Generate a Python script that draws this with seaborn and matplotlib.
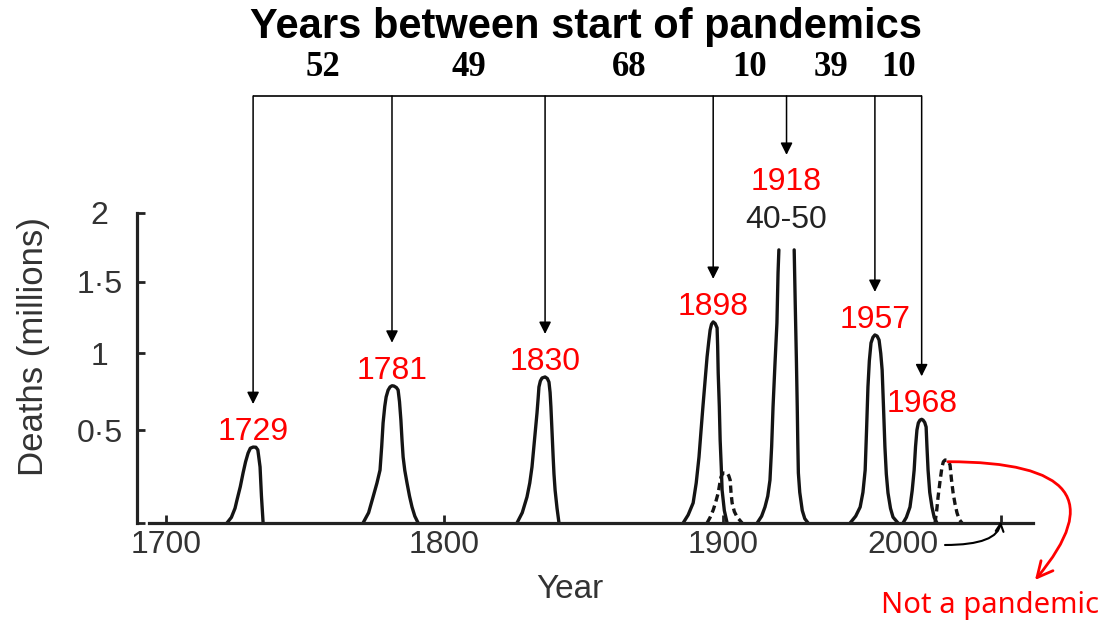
import numpy as np
import pandas as pd
import matplotlib
matplotlib.use("Agg")
import matplotlib.pyplot as plt
import matplotlib.transforms as mtransforms
import seaborn as sns

# ---------------- data ----------------
# outline points of every mortality wave: year, deaths (millions)
p1729_year = [1721.9, 1723.5, 1724.8, 1725.5, 1726.7, 1727.7, 1728.6, 1729.5, 1730.3, 1731.3,
              1732.3, 1733.0, 1733.4, 1733.8, 1734.3, 1734.9]
p1729_deaths = [0.0, 0.02, 0.06, 0.10, 0.17, 0.246, 0.31, 0.361, 0.39, 0.397,
                0.396, 0.38, 0.33, 0.28, 0.12, 0.0]

p1781_year = [1770.8, 1772.8, 1774.4, 1775.8, 1776.9, 1777.5, 1778.0, 1778.6, 1779.1, 1779.8,
              1780.5, 1781.2, 1781.9, 1782.8, 1783.4, 1783.9, 1784.4, 1784.8, 1785.2, 1785.8,
              1786.6, 1787.5, 1788.4, 1789.4, 1790.6]
p1781_deaths = [0.0, 0.04, 0.116, 0.19, 0.262, 0.40, 0.545, 0.65, 0.711, 0.755,
                0.776, 0.784, 0.782, 0.772, 0.756, 0.68, 0.563, 0.44, 0.338, 0.26,
                0.19, 0.12, 0.066, 0.025, 0.0]

p1830_year = [1826.1, 1828.0, 1829.7, 1830.7, 1831.5, 1832.4, 1833.3, 1833.7, 1834.0, 1834.5,
              1835.1, 1836.2, 1837.0, 1837.6, 1838.0, 1838.3, 1838.7, 1839.1, 1839.4, 1839.8,
              1840.5, 1841.2]
p1830_deaths = [0.0, 0.04, 0.116, 0.19, 0.28, 0.44, 0.608, 0.70, 0.776, 0.815,
                0.835, 0.842, 0.832, 0.808, 0.74, 0.646, 0.49, 0.338, 0.24, 0.152,
                0.06, 0.0]

p1898_year = [1885.8, 1887.6, 1889.4, 1890.5, 1891.5, 1892.2, 1892.9, 1893.7, 1894.4, 1895.0,
              1895.5, 1896.0, 1896.6, 1897.3, 1898.0, 1898.2, 1898.4, 1898.8, 1899.1, 1899.5,
              1899.8, 1900.6, 1901.6]
p1898_deaths = [0.0, 0.03, 0.086, 0.19, 0.338, 0.49, 0.646, 0.82, 0.976, 1.08,
                1.16, 1.20, 1.216, 1.205, 1.175, 1.05, 0.868, 0.65, 0.439, 0.28,
                0.152, 0.05, 0.0]

p1900_year = [1894.4, 1895.5, 1896.6, 1897.5, 1898.4, 1899.0, 1899.4, 1900.0, 1900.5, 1901.6,
              1902.2, 1902.7, 1903.0, 1903.4, 1904.2, 1905.2, 1907.0]
p1900_deaths = [0.0, 0.02, 0.052, 0.09, 0.137, 0.19, 0.223, 0.242, 0.246, 0.246,
                0.23, 0.206, 0.14, 0.086, 0.045, 0.021, 0.0]

p1918a_year = [1912.4, 1914.0, 1915.2, 1916.2, 1917.0, 1917.6, 1918.1, 1918.8, 1919.5, 1919.9, 1920.2]
p1918a_deaths = [0.0, 0.025, 0.066, 0.12, 0.206, 0.40, 0.646, 0.93, 1.209, 1.562, 1.729]
p1918b_year = [1925.7, 1926.1, 1926.5, 1926.8, 1927.0, 1927.2, 1927.7, 1928.6, 1929.5, 1930.7]
p1918b_deaths = [1.729, 1.321, 0.95, 0.646, 0.42, 0.246, 0.14, 0.05, 0.015, 0.0]

p1957_year = [1945.8, 1947.8, 1949.4, 1950.4, 1951.2, 1951.7, 1952.2, 1952.7, 1953.3, 1954.0,
              1954.7, 1955.5, 1956.2, 1956.8, 1957.3, 1957.8, 1958.3, 1958.8, 1959.4, 1960.3,
              1961.2, 1963.0]
p1957_deaths = [0.0, 0.025, 0.066, 0.14, 0.262, 0.50, 0.776, 0.95, 1.071, 1.11,
                1.126, 1.118, 1.091, 1.00, 0.888, 0.64, 0.397, 0.24, 0.137, 0.06,
                0.021, 0.0]

p1968_year = [1964.8, 1966.0, 1967.3, 1968.1, 1968.8, 1969.3, 1969.8, 1970.3, 1970.9, 1971.5,
              1972.0, 1972.6, 1973.1, 1973.4, 1973.8, 1974.4, 1975.2, 1976.0, 1977.0]
p1968_deaths = [0.0, 0.02, 0.066, 0.15, 0.262, 0.40, 0.501, 0.545, 0.563, 0.568,
                0.563, 0.548, 0.52, 0.40, 0.262, 0.14, 0.066, 0.02, 0.0]

p1981_year = [1976.3, 1976.9, 1977.4, 1978.1, 1978.8, 1979.3, 1979.9, 1980.6, 1981.2, 1981.7,
              1982.2, 1982.8, 1983.5, 1984.2, 1985.0, 1986.0]
p1981_deaths = [0.0, 0.05, 0.116, 0.20, 0.28, 0.31, 0.320, 0.320, 0.31, 0.291,
                0.21, 0.137, 0.08, 0.039, 0.012, 0.0]

pandemic_labels = ["1729", "1781", "1830", "1898", "1918", "1957", "1968"]
gap_years = [52, 49, 68, 10, 39, 10]
deaths_1918_label = "40-50"
y_ticks = [0, 0.5, 1, 1.5, 2]
y_tick_labels = ["", "0·5", "1", "1·5", "2"]
x_ticks = [1700, 1800, 1900, 2000]
x_tick_labels = ["1700", "1800", "1900", "2000"]

# ---------------- build table ----------------
curves = [
    ("1729", p1729_year, p1729_deaths, "solid"),
    ("1781", p1781_year, p1781_deaths, "solid"),
    ("1830", p1830_year, p1830_deaths, "solid"),
    ("1898", p1898_year, p1898_deaths, "solid"),
    ("1900", p1900_year, p1900_deaths, "dashed"),
    ("1918a", p1918a_year, p1918a_deaths, "solid"),
    ("1918b", p1918b_year, p1918b_deaths, "solid"),
    ("1957", p1957_year, p1957_deaths, "solid"),
    ("1968", p1968_year, p1968_deaths, "solid"),
    ("1981", p1981_year, p1981_deaths, "dashed"),
]
frames = [pd.DataFrame({"year": xs, "deaths": ys, "wave": name, "kind": kind})
          for name, xs, ys, kind in curves]
df = pd.concat(frames, ignore_index=True)

# ---------------- figure ----------------
sns.set_theme(style="white")
plt.rcParams["font.family"] = ["Liberation Sans", "DejaVu Sans"]
W, H = 1117, 625
fig = plt.figure(figsize=(W / 100, H / 100), dpi=100)
ax = fig.add_axes([149 / W, 1 - 523 / H, (1033 - 149) / W, (523 - 213) / H])

p = 0.87
ax.set_yscale("function", functions=(lambda v: np.sign(v) * np.abs(v) ** p,
                                     lambda t: np.sign(t) * np.abs(t) ** (1 / p)))

line_col = "#141414"
sns.lineplot(data=df, x="year", y="deaths", units="wave", estimator=None,
             style="kind", dashes={"solid": "", "dashed": (2.2, 1.3)},
             color=line_col, linewidth=2.4, legend=False, sort=False, ax=ax,
             solid_joinstyle="round", solid_capstyle="round")

ax.set_xlim(1693.9, 2011.5)
ax.set_ylim(0, 2)

for s in ["top", "right"]:
    ax.spines[s].set_visible(False)
for s in ["left", "bottom"]:
    ax.spines[s].set_color("#222222")
    ax.spines[s].set_linewidth(2.3)
ax.spines["left"].set_position(("outward", 8.6))

ax.set_yticks(y_ticks)
ax.set_yticklabels(y_tick_labels)
ax.set_xticks(x_ticks)
ax.set_xticklabels(x_tick_labels)
ax.tick_params(axis="y", direction="in", length=6, width=2, color="#222222",
               labelsize=23, labelcolor="#333333", pad=27, left=True)
ax.tick_params(axis="x", direction="in", length=6, width=2, color="#222222",
               labelsize=23, labelcolor="#333333", pad=5, bottom=True)
for lab in ax.get_yticklabels():
    lab.set_horizontalalignment("center")
# the "2000" label sits left of its tick in the reference
lab2000 = ax.get_xticklabels()[-1]
lab2000.set_transform(lab2000.get_transform() +
                      mtransforms.ScaledTranslation(-98 / 100, 0, fig.dpi_scale_trans))

ax.set_xlabel("Year", fontsize=24, color="#333333")
ax.xaxis.set_label_coords((570 - 149) / 884, -0.165)
ax.set_ylabel("Deaths (millions)", fontsize=25, color="#333333")
ax.yaxis.set_label_coords(-0.112, 0.568)

# ---------------- annotations ----------------
def peak_of(name):
    sub = df[df.wave == name]
    i = sub.deaths.idxmax()
    return sub.loc[i, "year"], sub.loc[i, "deaths"]

peaks = {lbl: peak_of(lbl) for lbl in ["1729", "1781", "1830", "1898", "1957", "1968"]}
xa, ya = peak_of("1918a")
xb, yb = peak_of("1918b")
peaks["1918"] = ((xa + xb) / 2, max(ya, yb))

top_frac = (523 - 96) / 310
xtrans = ax.get_xaxis_transform()
arrow_x = []
for lbl in pandemic_labels:
    x, y = peaks[lbl]
    arrow_x.append(x)
    if lbl == "1918":
        lab_dy, tip_dy = 60, 95
        ax.annotate(deaths_1918_label, xy=(x, y), xytext=(0, 22 * 0.72), textcoords="offset points",
                    ha="center", va="baseline", color="#222222", fontsize=23, annotation_clip=False)
    else:
        lab_dy, tip_dy = 7, 43
    ax.annotate(lbl, xy=(x, y), xytext=(0, lab_dy * 0.72), textcoords="offset points",
                ha="center", va="baseline", color="red", fontsize=23, annotation_clip=False)
    tip = mtransforms.offset_copy(ax.transData, fig=fig, x=0, y=tip_dy, units="dots")
    ax.annotate("", xy=(x, y), xycoords=tip, xytext=(x, top_frac), textcoords=xtrans,
                arrowprops=dict(arrowstyle="-|>", color="black", lw=1.1, shrinkA=0, shrinkB=0,
                                mutation_scale=18), annotation_clip=False)

ax.plot([arrow_x[0], arrow_x[-1]], [top_frac, top_frac], transform=xtrans, color="black",
        lw=1.2, clip_on=False, solid_capstyle="butt")

for i, g in enumerate(gap_years):
    xm = (arrow_x[i] + arrow_x[i + 1]) / 2
    ax.text(xm, (523 - 76) / 310, str(g), transform=xtrans, ha="center", va="baseline",
            fontsize=25, fontweight="bold", family=["Liberation Serif"], color="black")

fig.text(586 / W, 1 - 38 / H, "Years between start of pandemics", ha="center", va="baseline",
         fontsize=30, fontweight="bold", color="black")

# "Not a pandemic" callout
xd, yd = peak_of("1981")
ax.annotate("", xy=(1035 / W, 1 - 580 / H), xycoords="figure fraction",
            xytext=(xd + 1.0, yd * 0.97), textcoords="data",
            arrowprops=dict(arrowstyle="->", color="red", lw=2.0, shrinkA=0, shrinkB=0,
                            mutation_scale=28, connectionstyle="angle3,angleA=0,angleB=50"),
            annotation_clip=False)
fig.text(990 / W, 1 - 613 / H, "Not a pandemic", ha="center", va="baseline",
         fontsize=21, color="red", family=["Noto Sans", "DejaVu Sans"])

# small arrow from the displaced "2000" label to its tick
ax.annotate("", xy=(2000, 0.015), xycoords="data",
            xytext=(945 / W, 1 - 545 / H), textcoords="figure fraction",
            arrowprops=dict(arrowstyle="->", color="black", lw=1.5, shrinkA=0, shrinkB=2,
                            mutation_scale=14, connectionstyle="angle3,angleA=0,angleB=90"),
            annotation_clip=False)

fig.savefig("out.png", dpi=100)
